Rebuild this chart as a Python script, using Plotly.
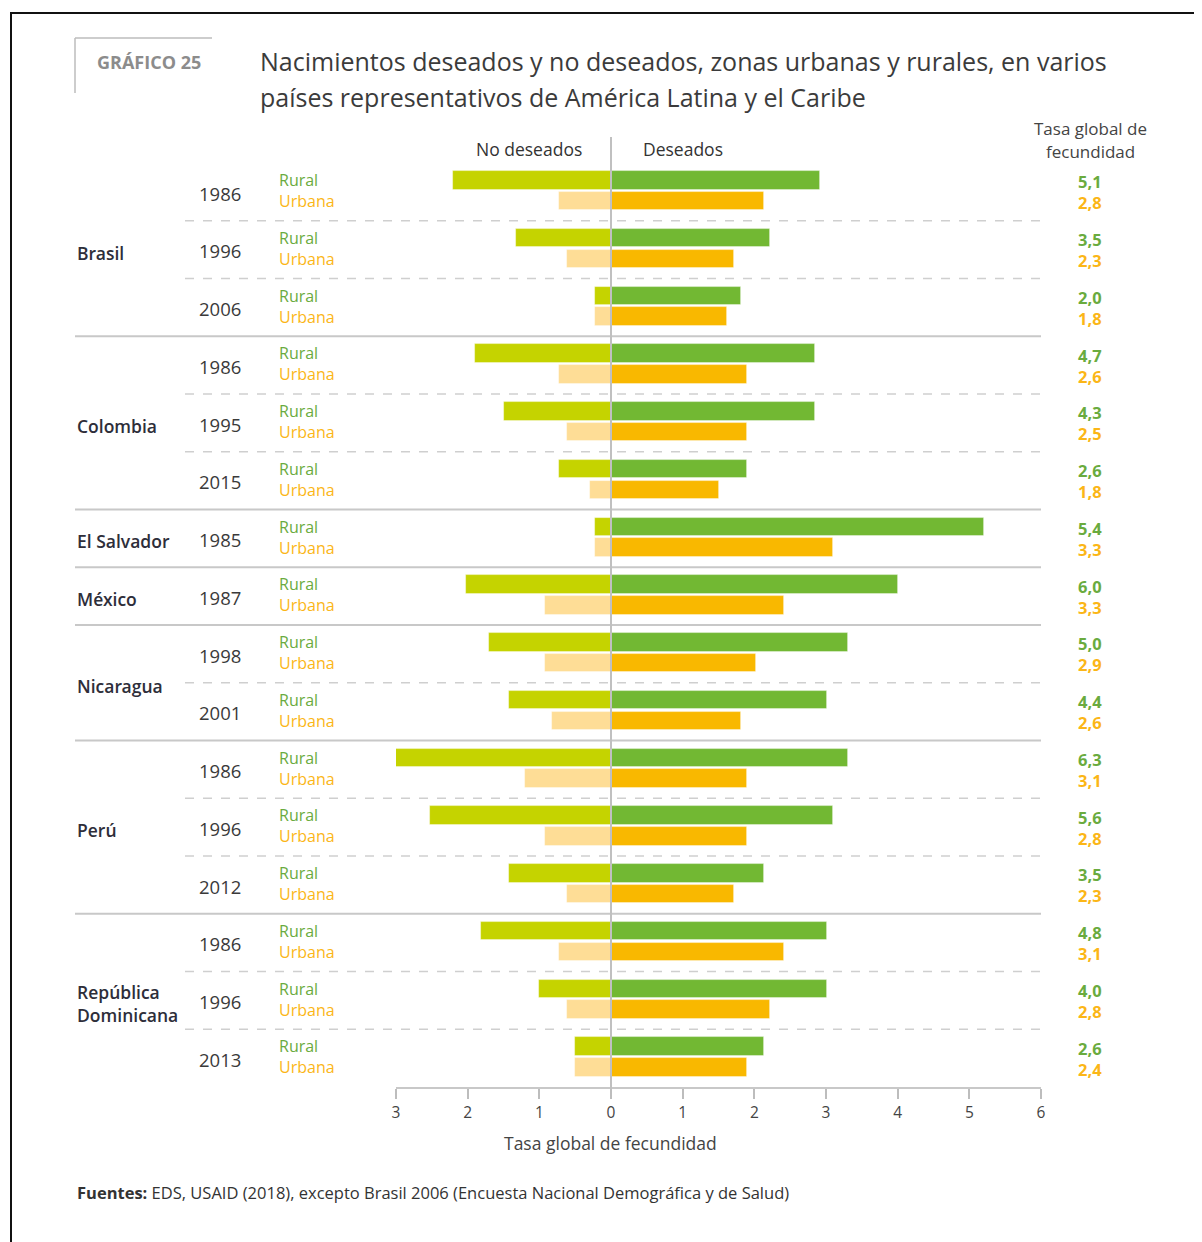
import plotly.graph_objects as go

# ---------------- data ----------------
countries = ["Brasil", "Colombia", "El Salvador", "México", "Nicaragua", "Perú", "República<br>Dominicana"]
group_country = (["Brasil"] * 3 + ["Colombia"] * 3 + ["El Salvador"] + ["México"]
                 + ["Nicaragua"] * 2 + ["Perú"] * 3 + ["República<br>Dominicana"] * 3)
years = ["1986", "1996", "2006", "1986", "1995", "2015", "1985", "1987",
         "1998", "2001", "1986", "1996", "2012", "1986", "1996", "2013"]

rural_no_deseados = [2.2, 1.32, 0.22, 1.9, 1.5, 0.72, 0.22, 2.02, 1.7, 1.42, 3.05, 2.52, 1.42, 1.82, 1.0, 0.5]
rural_deseados = [2.92, 2.22, 1.82, 2.84, 2.84, 1.9, 5.2, 4.0, 3.3, 3.02, 3.3, 3.1, 2.14, 3.02, 3.02, 2.14]
urbana_no_deseados = [0.72, 0.62, 0.22, 0.72, 0.62, 0.3, 0.22, 0.92, 0.92, 0.82, 1.2, 0.92, 0.62, 0.72, 0.62, 0.5]
urbana_deseados = [2.14, 1.72, 1.62, 1.9, 1.9, 1.5, 3.1, 2.42, 2.02, 1.82, 1.9, 1.9, 1.72, 2.42, 2.22, 1.9]

tgf_rural = ["5,1", "3,5", "2,0", "4,7", "4,3", "2,6", "5,4", "6,0", "5,0", "4,4", "6,3", "5,6", "3,5", "4,8", "4,0", "2,6"]
tgf_urbana = ["2,8", "2,3", "1,8", "2,6", "2,5", "1,8", "3,3", "3,3", "2,9", "2,6", "3,1", "2,8", "2,3", "3,1", "2,8", "2,4"]

tick_vals = [-3, -2, -1, 0, 1, 2, 3, 4, 5, 6]
tick_text = ["3", "2", "1", "0", "1", "2", "3", "4", "5", "6"]

# ---------------- layout helpers (screen pixel coordinates) ----------------
W, H = 1202, 1242
OFF = 8  # page body margin
L, R, T, B = 396, 1041, 163, 1087
def px(p):
    return (p - L) / (R - L)
def py(p):
    return (B - p) / (B - T)

FONT = "Open Sans"
C_RU_NO = "#c5d300"
C_RU_SI = "#72b833"
C_UR_NO = "#fedd96"
C_UR_SI = "#f9b800"
C_TXT_RU = "#6aab3e"
C_TXT_UR = "#fbb617"

n = len(years)
idx = list(range(n))
y_r = [i - 0.2 for i in idx]
y_u = [i + 0.16 for i in idx]
bw = 0.32

fig = go.Figure()
line = dict(color="rgba(255,255,255,0.5)", width=0.8)
fig.add_trace(go.Bar(y=y_r, x=[-v for v in rural_no_deseados], orientation="h", width=bw,
                     marker=dict(color=C_RU_NO, line=line), hoverinfo="skip"))
fig.add_trace(go.Bar(y=y_r, x=rural_deseados, orientation="h", width=bw,
                     marker=dict(color=C_RU_SI, line=line), hoverinfo="skip"))
fig.add_trace(go.Bar(y=y_u, x=[-v for v in urbana_no_deseados], orientation="h", width=bw,
                     marker=dict(color=C_UR_NO, line=line), hoverinfo="skip"))
fig.add_trace(go.Bar(y=y_u, x=urbana_deseados, orientation="h", width=bw,
                     marker=dict(color=C_UR_SI, line=line), hoverinfo="skip"))

shapes = []
annotations = []

# separators
country_breaks = []
year_breaks = []
for i in range(1, n):
    if group_country[i] != group_country[i - 1]:
        country_breaks.append(i - 0.5)
    else:
        year_breaks.append(i - 0.5)
for yb in country_breaks:
    shapes.append(dict(type="line", xref="paper", yref="y", x0=px(75), x1=px(1041), y0=yb, y1=yb,
                       line=dict(color="#c8c8c8", width=2), layer="below"))
for yb in year_breaks:
    shapes.append(dict(type="line", xref="paper", yref="y", x0=px(185), x1=px(1041), y0=yb, y1=yb,
                       line=dict(color="#cfcfcf", width=1.6, dash="dash"), layer="below"))

# center line
shapes.append(dict(type="line", xref="x", yref="paper", x0=0, x1=0, y0=py(1090), y1=py(137),
                   line=dict(color="#c0c0c0", width=2)))
# outer frame
shapes.append(dict(type="rect", xref="paper", yref="paper", x0=px(11), x1=px(1215), y0=py(1255), y1=py(13),
                   line=dict(color="#111111", width=2), layer="below"))
# GRAFICO box
shapes.append(dict(type="line", xref="paper", yref="paper", x0=px(75), x1=px(212), y0=py(38), y1=py(38),
                   line=dict(color="#bdbdbd", width=1.5)))
shapes.append(dict(type="line", xref="paper", yref="paper", x0=px(75), x1=px(75), y0=py(38), y1=py(93),
                   line=dict(color="#bdbdbd", width=1.5)))

def ann(text, x, y, size, color, xanchor="left", xref="paper", yref="paper", bold=False, family=FONT):
    annotations.append(dict(text=("<b>%s</b>" % text) if bold else text, x=x, y=y, xref=xref, yref=yref,
                            xanchor=xanchor, yanchor="middle", showarrow=False, align=xanchor if xanchor != "center" else "center",
                            font=dict(size=size, color=color, family=family)))

# header
ann("GRÁFICO 25", px(95), py(62), 18, "#8c8c8c", bold=True)
ann("Nacimientos deseados y no deseados, zonas urbanas y rurales, en varios", px(258), py(61), 25, "#3b3b3b")
ann("países representativos de América Latina y el Caribe", px(258), py(97), 25, "#3b3b3b")
ann("No deseados", px(529), py(149), 17.5, "#333333", xanchor="center")
ann("Deseados", px(683), py(149), 17.5, "#333333", xanchor="center")
ann("Tasa global de", px(1090), py(129), 17, "#444444", xanchor="center")
ann("fecundidad", px(1090), py(151), 17, "#444444", xanchor="center")

# countries
for c in countries:
    ids = [i for i in idx if group_country[i] == c]
    yc = sum(ids) / len(ids)
    ann(c, px(75), yc + 0.05, 17.5, "#2e2e3a", yref="y", family="Open Sans SemiBold, Open Sans")

# rows
for i in idx:
    ann(years[i], px(220), i + 0.02, 18.5, "#3a3a3a", xanchor="center", yref="y")
    ann("<span style='color:%s'>Rural</span><br><span style='color:%s'>Urbana</span>" % (C_TXT_RU, C_TXT_UR),
        px(277), (y_r[i] + y_u[i]) / 2, 16, C_TXT_RU, yref="y")
    ann("<span style='color:%s'>%s</span><br><span style='color:%s'>%s</span>"
        % (C_TXT_RU, tgf_rural[i], C_TXT_UR, tgf_urbana[i]),
        px(1090), (y_r[i] + y_u[i]) / 2 + 0.03, 16.5, C_TXT_RU, xanchor="center", yref="y", bold=True)

# axis title and footer
ann("Tasa global de fecundidad", px(610), py(1143), 17.5, "#444444", xanchor="center")
ann("<b>Fuentes:</b> EDS, USAID (2018), excepto Brasil 2006 (Encuesta Nacional Demográfica y de Salud)",
    px(75), py(1192), 16.5, "#333333")

fig.update_layout(
    width=W - OFF, height=H - OFF,
    margin=dict(l=L - OFF, r=W - R, t=T - OFF, b=(H - OFF) - (B - OFF), pad=0),
    paper_bgcolor="white", plot_bgcolor="white",
    barmode="overlay", bargap=0, showlegend=False,
    font=dict(family=FONT, color="#444444"),
    shapes=shapes, annotations=annotations,
    xaxis=dict(range=[-3, 6], tickvals=tick_vals, ticktext=tick_text, ticks="outside", ticklen=10,
               tickcolor="#bdbdbd", tickwidth=1.5, showline=True, linecolor="#c8c8c8", linewidth=2,
               showgrid=False, zeroline=False, tickfont=dict(size=15.5, color="#444444"), fixedrange=True),
    yaxis=dict(range=[n - 0.5, -0.5], showticklabels=False, ticks="", showgrid=False, zeroline=False,
               showline=False, fixedrange=True),
)

fig.write_html("out.html", config={"displayModeBar": False})
